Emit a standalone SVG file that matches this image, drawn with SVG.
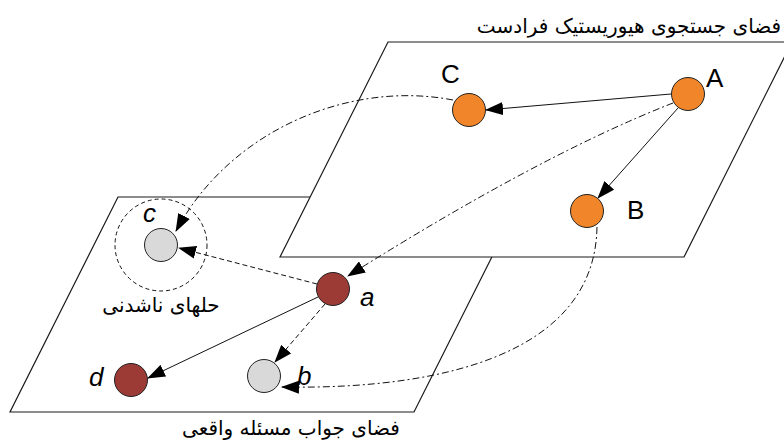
<svg xmlns="http://www.w3.org/2000/svg" width="784" height="443" viewBox="0 0 784 443">
  <style>
    .plane { fill: #ffffff; stroke: #1a1a1a; stroke-width: 1.2; }
    .node { stroke: #222; stroke-width: 1; }
    .orange { fill: #f0852a; }
    .red { fill: #9c3b36; }
    .gray { fill: #d9d9d9; }
    .lbl { font-family: "Liberation Sans", Arial, sans-serif; font-size: 26px; fill: #000; }
    .it { font-style: italic; }
    .fa { font-family: "DejaVu Sans", "Noto Sans", sans-serif; font-size: 20px; fill: #000; text-anchor: middle; }
    .solid { fill: none; stroke: #111; stroke-width: 1; }
    .dash { fill: none; stroke: #111; stroke-width: 1; stroke-dasharray: 5 3; }
    .dashdot { fill: none; stroke: #111; stroke-width: 1; stroke-dasharray: 7 3 2 3; }
  </style>
  <defs>
    <marker id="arr" markerUnits="userSpaceOnUse" markerWidth="18" markerHeight="13" viewBox="0 0 18 13" refX="17" refY="6.5" orient="auto">
      <path d="M0,0 L18,6.5 L0,13 Z" fill="#000"/>
    </marker>
  </defs>

  <rect width="784" height="443" fill="#ffffff"/>

  <g id="plane-bottom">
    <polygon class="plane" points="118,197 522,197 414,412 10,412"/>
  </g>
  <g id="plane-top">
    <polygon class="plane" points="388,42 792,42 684,257 280,257"/>
  </g>

  <g id="label-top">
    <text class="fa" x="629" y="33">فضای جستجوی هیوریستیک فرادست</text>
  </g>
  <g id="label-bottom">
    <text class="fa" x="291" y="435">فضای جواب مسئله واقعی</text>
  </g>

  <g id="region-unsolvable">
    <circle cx="161" cy="245" r="46" fill="none" stroke="#111" stroke-width="1" stroke-dasharray="4 3"/>
    <text class="fa" x="161" y="312">حلهای ناشدنی</text>
  </g>

  <g id="connectors">
    <line class="solid" x1="671" y1="94" x2="486" y2="110" marker-end="url(#arr)"/>
    <line class="solid" x1="678" y1="108" x2="598" y2="198" marker-end="url(#arr)"/>
    <path class="dashdot" d="M673,103 Q540,155 348,276" marker-end="url(#arr)"/>
    <path class="dashdot" d="M453,100 C350,80 230,130 176,231" marker-end="url(#arr)"/>
    <path class="dashdot" d="M597,227 C595,350 450,390 282,387" marker-end="url(#arr)"/>
    <line class="dash" x1="317" y1="284" x2="179" y2="248" marker-end="url(#arr)"/>
    <line class="dash" x1="325" y1="304" x2="275" y2="362" marker-end="url(#arr)"/>
    <line class="solid" x1="318" y1="297" x2="148" y2="378" marker-end="url(#arr)"/>
  </g>

  <g id="node-A">
    <circle class="node orange" cx="688" cy="94" r="16.5"/>
    <text class="lbl" x="706" y="87">A</text>
  </g>
  <g id="node-B">
    <circle class="node orange" cx="587" cy="211" r="16.5"/>
    <text class="lbl" x="627" y="219">B</text>
  </g>
  <g id="node-C">
    <circle class="node orange" cx="469" cy="110" r="16.5"/>
    <text class="lbl" x="441" y="83">C</text>
  </g>
  <g id="node-a">
    <circle class="node red" cx="333" cy="289" r="16.5"/>
    <text class="lbl it" x="360" y="306">a</text>
  </g>
  <g id="node-b">
    <circle class="node gray" cx="264" cy="376" r="16.5"/>
    <text class="lbl it" x="297" y="385">b</text>
  </g>
  <g id="node-c">
    <circle class="node gray" cx="161" cy="245" r="16.5"/>
    <text class="lbl it" x="143" y="222">c</text>
  </g>
  <g id="node-d">
    <circle class="node red" cx="131" cy="380" r="16.5"/>
    <text class="lbl it" x="89" y="386">d</text>
  </g>
</svg>
